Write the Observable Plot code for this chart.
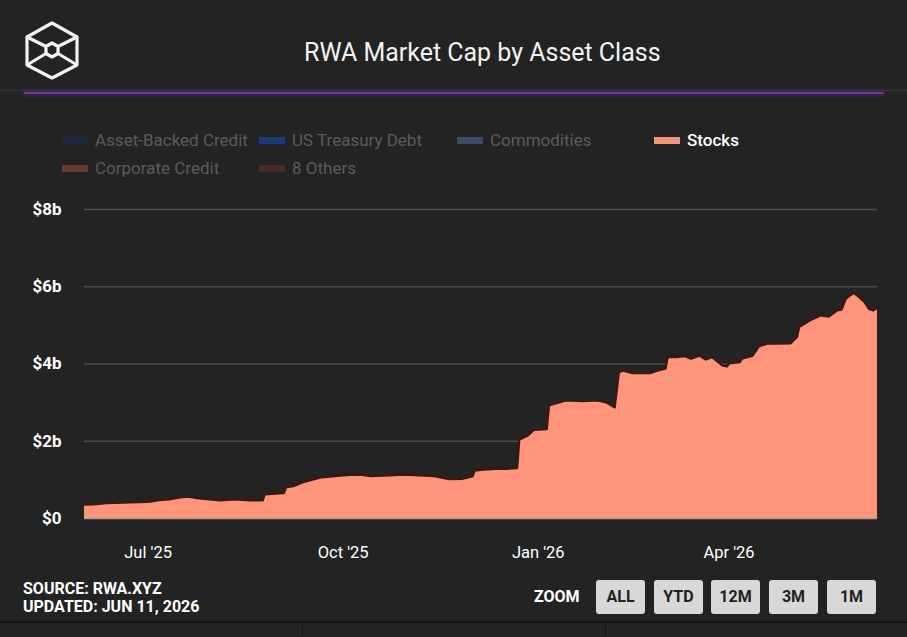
<!DOCTYPE html>
<html>
<head>
<meta charset="utf-8">
<script src="https://cdn.jsdelivr.net/npm/d3@7"></script>
<script src="https://cdn.jsdelivr.net/npm/@observablehq/plot@0.6"></script>
<style>
  html, body { margin: 0; padding: 0; background: #232323; }
  body { width: 907px; height: 637px; position: relative; overflow: hidden; font-family: Roboto, "Noto Sans", sans-serif; }
  .abs { position: absolute; }
  #title { left: 304px; top: 37px; color: #f2f2f2; font-size: 26px; line-height: 30px; white-space: nowrap; transform-origin: left center; transform: scaleX(0.96); }
  #rule { left: 24px; width: 860px; top: 92px; height: 2px; background: #7a2fa0; box-shadow: 0 0 4px 1px rgba(120,40,160,0.55); }
  #rule2 { left: 0; width: 907px; top: 90px; height: 1px; background: #333; }
  .leg { position: absolute; font-size: 17px; color: #5c5c5c; line-height: 20px; white-space: nowrap; }
  .leg i { position: absolute; left: -33px; top: 7px; width: 26px; height: 7px; }
  #chart { left: 0; top: 195px; }
  .foot { position: absolute; color: #fff; font-weight: 700; font-size: 16px; line-height: 19px; white-space: nowrap; }
  .btn { position: absolute; top: 580px; height: 34px; width: 49px; background: #d8d8d8; border-radius: 3px; color: #222; font-weight: 700; font-size: 16px; line-height: 34px; text-align: center; }
  #bottomline { left: 0; width: 907px; top: 621px; height: 2px; background: #151515; }
  .vsep { position: absolute; top: 623px; width: 1px; height: 14px; background: #151515; }
</style>
</head>
<body>
<svg class="abs" style="left:20px;top:18px" width="64" height="66" viewBox="0 0 64 66">
  <g fill="none" stroke="#f2f2f2" stroke-width="3.2" stroke-linejoin="round">
    <polygon points="32,5 57,19 57,47 32,60 7,47 7,19"/>
    <polygon points="32,25 38,28.5 38,35.5 32,39 26,35.5 26,28.5"/>
    <line x1="7" y1="19" x2="26" y2="28.5"/>
    <line x1="57" y1="19" x2="38" y2="28.5"/>
    <line x1="7" y1="47" x2="26" y2="35.5"/>
    <line x1="57" y1="47" x2="38" y2="35.5"/>
  </g>
</svg>
<div id="title" class="abs">RWA Market Cap by Asset Class</div>
<div id="rule2" class="abs"></div>
<div id="rule" class="abs"></div>

<div id="legend"></div>
<div id="chart" class="abs"></div>

<div class="foot" style="left:23px;top:579px">SOURCE: RWA.XYZ</div>
<div class="foot" style="left:23px;top:597px">UPDATED: JUN 11, 2026</div>
<div class="foot" style="left:534px;top:587px">ZOOM</div>
<div class="btn" style="left:596px">ALL</div>
<div class="btn" style="left:654px">YTD</div>
<div class="btn" style="left:711px">12M</div>
<div class="btn" style="left:769px">3M</div>
<div class="btn" style="left:827px">1M</div>
<div id="bottomline" class="abs"></div>
<div class="vsep" style="left:302px"></div>
<div class="vsep" style="left:605px"></div>

<script>
// ---- Data (values in billions of USD) ----
const dates = [
  "2025-06-01","2025-06-05","2025-06-08","2025-06-11","2025-06-16","2025-06-22","2025-06-27",
  "2025-07-02","2025-07-06","2025-07-11","2025-07-16","2025-07-20","2025-07-24","2025-07-30",
  "2025-08-04","2025-08-11","2025-08-18","2025-08-24","2025-08-25","2025-08-30",
  "2025-09-03","2025-09-04","2025-09-08","2025-09-13","2025-09-20","2025-09-27",
  "2025-10-04","2025-10-09","2025-10-14","2025-10-23","2025-10-30",
  "2025-11-06","2025-11-13","2025-11-20","2025-11-26",
  "2025-12-01","2025-12-02","2025-12-06","2025-12-12","2025-12-17","2025-12-22","2025-12-23","2025-12-27","2025-12-30",
  "2026-01-05","2026-01-06","2026-01-14","2026-01-22","2026-01-29",
  "2026-02-02","2026-02-06","2026-02-08","2026-02-10","2026-02-14","2026-02-23","2026-02-26",
  "2026-03-02","2026-03-03","2026-03-07","2026-03-11","2026-03-14","2026-03-18","2026-03-21","2026-03-24","2026-03-29","2026-03-31",
  "2026-04-01","2026-04-06","2026-04-07","2026-04-12","2026-04-15","2026-04-19","2026-04-23","2026-04-30",
  "2026-05-03","2026-05-04","2026-05-09","2026-05-14","2026-05-18","2026-05-22","2026-05-24","2026-05-26","2026-05-28","2026-05-30",
  "2026-06-01","2026-06-04","2026-06-06","2026-06-08","2026-06-10"
];
const stocks = [
  0.36,0.37,0.38,0.40,0.41,0.42,0.43,
  0.44,0.48,0.50,0.55,0.57,0.53,0.50,
  0.47,0.50,0.47,0.47,0.63,0.65,
  0.66,0.81,0.85,0.96,1.06,1.10,
  1.13,1.14,1.10,1.12,1.14,
  1.12,1.10,1.02,1.03,
  1.09,1.24,1.27,1.29,1.29,1.31,2.04,2.15,2.30,
  2.32,2.93,3.06,3.04,3.06,
  3.01,2.88,3.79,3.83,3.77,3.77,3.83,
  3.88,4.18,4.18,4.21,4.14,4.22,4.12,4.18,3.96,3.94,
  4.02,4.05,4.14,4.21,4.46,4.53,4.53,4.54,
  4.70,4.96,5.13,5.26,5.23,5.39,5.41,5.69,5.78,5.84,
  5.75,5.60,5.43,5.39,5.46
];
const yTicks = [0, 2, 4, 6, 8];
const yTickLabels = ["$0", "$2b", "$4b", "$6b", "$8b"];
const xTicks = ["2025-07-01", "2025-10-01", "2026-01-01", "2026-04-01"];
const xTickLabels = ["Jul '25", "Oct '25", "Jan '26", "Apr '26"];
const legendNames = ["Asset-Backed Credit", "US Treasury Debt", "Commodities", "Stocks", "Corporate Credit", "8 Others"];
const legendColors = ["#1c2746", "#1f3a78", "#3a4c6c", "#f4937c", "#6a3a30", "#4a2926"];
const legendActive = [false, false, false, true, false, false];

// ---- Legend ----
const legPos = [[95,130],[292,130],[490,130],[687,130],[95,158],[292,158]];
const leg = document.getElementById("legend");
legendNames.forEach((n, i) => {
  const d = document.createElement("div");
  d.className = "leg";
  d.style.left = legPos[i][0] + "px";
  d.style.top = legPos[i][1] + "px";
  if (legendActive[i]) { d.style.color = "#ffffff"; d.style.fontWeight = "500"; }
  d.innerHTML = `<i style="background:${legendColors[i]}"></i>` + n;
  leg.appendChild(d);
});

// ---- Chart ----
const parse = d3.utcParse("%Y-%m-%d");
const data = dates.map((d, i) => ({date: parse(d), value: stocks[i]}));
const xt = xTicks.map(parse);
const xLab = new Map(xt.map((d, i) => [+d, xTickLabels[i]]));
const yLab = new Map(yTicks.map((v, i) => [v, yTickLabels[i]]));

const chart = Plot.plot({
  width: 907,
  height: 370,
  marginLeft: 84,
  marginRight: 30,
  marginTop: 14,
  marginBottom: 47,
  style: {background: "transparent", color: "#ffffff", fontFamily: "Roboto, sans-serif", fontSize: "15px", overflow: "visible"},
  x: {type: "utc", domain: [data[0].date, data[data.length - 1].date]},
  y: {domain: [0, 8]},
  marks: [
    Plot.gridY(yTicks.filter(v => v > 0), {stroke: "#4c4c4c", strokeOpacity: 1, strokeWidth: 1.5}),
    Plot.areaY(data, {x: "date", y: "value", fill: "#fe9479", curve: "linear"}),
    Plot.lineY(data, {x: "date", y: "value", stroke: "#3a1812", strokeWidth: 2.5, curve: "linear"}),
    Plot.ruleY([0], {stroke: "#a89a96", strokeWidth: 1.5}),
    Plot.axisY(yTicks, {tickSize: 0, tickPadding: 23, tickFormat: v => yLab.get(v), fontWeight: "bold", fontSize: 17, label: null}),
    Plot.axisX(xt, {tickSize: 0, tickPadding: 28, tickFormat: d => xLab.get(+d), fontSize: 16.5, label: null})
  ]
});
document.getElementById("chart").appendChild(chart);
</script>
</body>
</html>
